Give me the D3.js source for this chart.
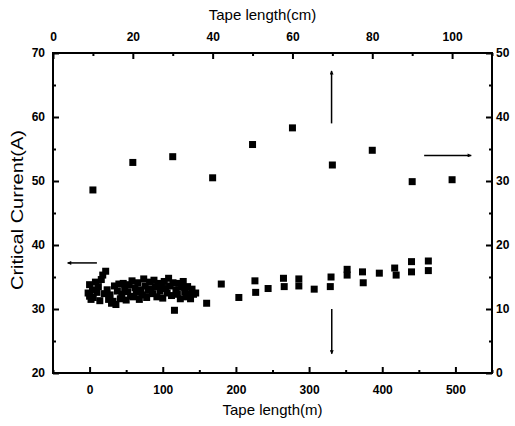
<!DOCTYPE html>
<html>
<head>
<meta charset="utf-8">
<script src="https://cdn.jsdelivr.net/npm/d3@7"></script>
<style>
  body { margin: 0; background: #fff; }
  svg { font-family: Arial, "Liberation Sans", sans-serif; }
  .tick text { font-size: 12px; font-weight: bold; fill: #000; }
  .axis path { display: none; }
  .axis line { stroke: #000; stroke-width: 2; }
</style>
</head>
<body>
<div id="chart"></div>
<script>
// Upper series: tape length (cm) vs critical current on the right axis
const cmLength = [10, 20, 30, 40, 50, 60, 70, 80, 90, 100];
const cmCurrent = [28.6, 32.9, 33.8, 30.5, 35.7, 38.3, 32.5, 34.8, 29.9, 30.2];

// Lower series: tape length (m) vs critical current (A)
const mLength = [
  -2, 0, 0, 2, 4, 5, 8, 10, 12, 14, 16, 18, 20, 22, 24, 26, 28, 30, 32, 34,
  36, 38, 40, 42, 44, 46, 48, 50, 52, 54, 56, 58, 60, 62, 64, 66, 68, 70, 72, 74,
  76, 78, 80, 82, 84, 86, 88, 90, 92, 94, 96, 98, 100, 102, 104, 106, 108, 110, 112, 114,
  116, 118, 120, 122, 124, 126, 128, 130, 132, 134, 136, 138, 140, 142, 145,
  160, 180, 204, 226, 227, 244, 265, 266, 286, 286, 307, 329, 330, 352, 352,
  373, 374, 396, 417, 419, 440, 440, 463, 463
];
const mCurrent = [
  32.5, 32.0, 33.8, 31.5, 33.0, 31.8, 34.2, 32.6, 33.5, 31.3, 34.6, 35.3, 32.4, 35.9, 33.0, 31.5, 32.2, 30.9, 31.2, 33.6,
  30.7, 32.8, 33.9, 31.6, 32.3, 34.0, 33.2, 31.4, 32.7, 33.8, 32.0, 34.4, 31.9, 33.3, 32.6, 34.1, 31.5, 33.0, 32.2, 34.7,
  33.6, 31.8, 32.9, 34.2, 33.1, 32.4, 34.5, 33.5, 31.9, 34.0, 32.8, 33.7, 31.7, 34.3, 33.2, 32.5, 34.8, 33.6, 32.1, 34.1,
  29.8, 33.0, 32.3, 34.0, 31.6, 33.4, 34.3, 32.7, 31.9, 33.5, 32.4, 31.6, 33.1, 32.3, 32.5,
  30.9, 33.9, 31.8, 34.4, 32.6, 33.2, 34.8, 33.5, 34.7, 33.6, 33.1, 33.5, 35.0, 36.2, 35.3,
  35.8, 34.1, 35.6, 36.4, 35.3, 37.4, 35.8, 37.5, 36.0
];

const bottomTicks = [0, 100, 200, 300, 400, 500];
const bottomMinor = [-50, 50, 150, 250, 350, 450, 550];
const topTicks = [0, 20, 40, 60, 80, 100];
const topMinor = [10, 30, 50, 70, 90, 110];
const leftTicks = [20, 30, 40, 50, 60, 70];
const leftMinor = [25, 35, 45, 55, 65];
const rightTicks = [0, 10, 20, 30, 40, 50];
const rightMinor = [5, 15, 25, 35, 45];

const width = 515;
const height = 426;
const plot = {left: 53, right: 492, top: 53, bottom: 373};

const xM = d3.scaleLinear().domain([-50, 550]).range([plot.left, plot.right]);
const xCm = d3.scaleLinear().domain([0, 110]).range([plot.left, plot.right]);
const yA = d3.scaleLinear().domain([20, 70]).range([plot.bottom, plot.top]);
const yR = d3.scaleLinear().domain([0, 50]).range([plot.bottom, plot.top]);

const svg = d3.select('#chart').append('svg')
  .attr('width', width)
  .attr('height', height);

svg.append('defs').append('marker')
  .attr('id', 'head')
  .attr('viewBox', '0 0 10 10')
  .attr('refX', 9).attr('refY', 5)
  .attr('markerWidth', 6).attr('markerHeight', 4)
  .attr('markerUnits', 'userSpaceOnUse')
  .attr('orient', 'auto')
  .append('path')
  .attr('d', 'M0,0L10,5L0,10Z')
  .attr('fill', '#000');

// Axes (ticks point inward)
function addAxis(axisFn, scale, ticks, minor, transform, pad) {
  const g = svg.append('g').attr('class', 'axis').attr('transform', transform);
  g.call(axisFn(scale).tickValues(ticks).tickSizeInner(-6).tickSizeOuter(0).tickPadding(pad));
  const m = svg.append('g').attr('class', 'axis').attr('transform', transform);
  m.call(axisFn(scale).tickValues(minor).tickSizeInner(-3).tickSizeOuter(0).tickFormat(''));
  return g;
}

addAxis(d3.axisBottom, xM, bottomTicks, bottomMinor, `translate(0,${plot.bottom})`, 12);
addAxis(d3.axisTop, xCm, topTicks, topMinor, `translate(0,${plot.top})`, 12);
addAxis(d3.axisLeft, yA, leftTicks, leftMinor, `translate(${plot.left},0)`, 8);
addAxis(d3.axisRight, yR, rightTicks, rightMinor, `translate(${plot.right},0)`, 4);

svg.append('rect')
  .attr('x', plot.left).attr('y', plot.top)
  .attr('width', plot.right - plot.left)
  .attr('height', plot.bottom - plot.top)
  .attr('fill', 'none')
  .attr('stroke', '#000')
  .attr('stroke-width', 2);

// Titles
svg.append('text')
  .attr('x', (plot.left + plot.right) / 2 - 10)
  .attr('y', 20)
  .attr('text-anchor', 'middle')
  .style('font-size', '15px')
  .text('Tape length(cm)');

svg.append('text')
  .attr('x', (plot.left + plot.right) / 2)
  .attr('y', 415)
  .attr('text-anchor', 'middle')
  .style('font-size', '15px')
  .text('Tape length(m)');

svg.append('text')
  .attr('transform', 'translate(23,210) rotate(-90)')
  .attr('text-anchor', 'middle')
  .attr('textLength', 160)
  .attr('lengthAdjust', 'spacingAndGlyphs')
  .style('font-size', '16px')
  .text('Critical Current(A)');

// Points
const sq = 7;
svg.append('g').selectAll('rect')
  .data(cmLength.map((d, i) => [d, cmCurrent[i]]))
  .enter().append('rect')
  .attr('x', d => xCm(d[0]) - sq / 2)
  .attr('y', d => yR(d[1]) - sq / 2)
  .attr('width', sq).attr('height', sq)
  .attr('fill', '#000');

svg.append('g').selectAll('rect')
  .data(mLength.map((d, i) => [d, mCurrent[i]]))
  .enter().append('rect')
  .attr('x', d => xM(d[0]) - sq / 2)
  .attr('y', d => yA(d[1]) - sq / 2)
  .attr('width', sq).attr('height', sq)
  .attr('fill', '#000');

// Arrows showing which axes each series belongs to
const arrows = [
  [xM(10), yA(37.2), xM(-30), yA(37.2)],
  [xCm(93), yR(34), xCm(104.8), yR(34)],
  [xCm(69.8), yR(39), xCm(69.8), yR(47.2)],
  [xM(331), yA(30), xM(331), yA(23)]
];
svg.append('g').selectAll('line')
  .data(arrows)
  .enter().append('line')
  .attr('x1', d => d[0]).attr('y1', d => d[1])
  .attr('x2', d => d[2]).attr('y2', d => d[3])
  .attr('stroke', '#000')
  .attr('stroke-width', 1.5)
  .attr('marker-end', 'url(#head)');
</script>
</body>
</html>
